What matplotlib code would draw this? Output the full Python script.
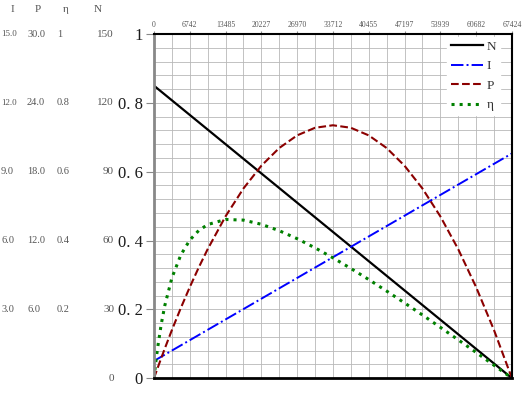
import numpy as np
import matplotlib.pyplot as plt
from matplotlib.transforms import blended_transform_factory

# motor characteristic curves, normalised to 0..1 on the main axis
speed = [0, 337, 674, 1348, 2023, 3371, 5057, 6742, 8428, 10114, 13485,
         16856, 20227, 23598, 26970, 30341, 33712, 37083, 40455, 43826,
         47197, 50568, 53939, 57310, 60682, 64053, 67424]
N_vals = [0.85, 0.0]
N_speed = [0, 67424]
I_vals = [0.05, 0.653]
I_speed = [0, 67424]
P_vals = [0, 0.0146, 0.0291, 0.0576, 0.0856, 0.1397, 0.2040, 0.2646, 0.3216,
          0.3749, 0.4704, 0.5513, 0.6174, 0.6689, 0.7056, 0.7277, 0.7350,
          0.7277, 0.7056, 0.6689, 0.6174, 0.5513, 0.4704, 0.3749, 0.2646,
          0.1397, 0]
eta_vals = [0, 0.0461, 0.0869, 0.1553, 0.2101, 0.2914, 0.3582, 0.4012, 0.4290,
            0.4464, 0.4612, 0.4593, 0.4472, 0.4285, 0.4053, 0.3787, 0.3497,
            0.3189, 0.2866, 0.2531, 0.2187, 0.1836, 0.1478, 0.1114, 0.0747,
            0.0375, 0]

top_ticks = [0, 6742, 13485, 20227, 26970, 33712, 40455, 47197, 53939, 60682, 67424]
y_ticks = [0, 0.2, 0.4, 0.6, 0.8, 1.0]
y_ticklabels = ["0", "0. 2", "0. 4", "0. 6", "0. 8", "1"]

# extra scales on the left
side_heads = ["I", "P", "η", "N"]
side_y = [1.0, 0.8, 0.6, 0.4, 0.2]
I_labels = ["15.0", "12.0", "9.0", "6.0", "3.0"]
P_labels = ["30.0", "24.0", "18.0", "12.0", "6.0"]
eta_labels = ["1", "0.8", "0.6", "0.4", "0.2"]
N_side_y = [1.0, 0.8, 0.6, 0.4, 0.2, 0.0]
N_labels = ["150", "120", "90", "60", "30", "0"]

serif = ["Liberation Serif", "DejaVu Serif"]

fig = plt.figure(figsize=(5.31, 4.01), dpi=100)
ax = fig.add_axes([0.290, 0.057, 0.674, 0.858])

ax.plot(N_speed, N_vals, "-", color="black", lw=1.6, label="N")
ax.plot(I_speed, I_vals, "-.", color="#0000ff", lw=1.4, label="I")
ax.plot(speed, P_vals, "--", color="#8b0000", lw=1.5, label="P")
ax.plot(speed, eta_vals, ":", color="#008000", lw=2.2, label="η")

ax.set_xlim(0, top_ticks[-1])
ax.set_ylim(0, 1)

ax.xaxis.tick_top()
ax.set_xticks(top_ticks)
ax.set_xticklabels([str(v) for v in top_ticks], fontsize=5.5, color="#555555",
                   family=serif)
ax.set_xticks([(a + b) / 2 for a, b in zip(top_ticks[:-1], top_ticks[1:])], minor=True)
ax.tick_params(axis="x", which="major", length=2, pad=2, color="#888888")
ax.tick_params(axis="x", which="minor", length=0)

ax.set_yticks(y_ticks)
ax.set_yticklabels(y_ticklabels, fontsize=12, color="#1a1a1a", family=serif)
ax.set_yticks(np.arange(0, 1.0001, 0.04), minor=True)
ax.tick_params(axis="y", which="major", length=6, pad=2, color="#888888")
ax.tick_params(axis="y", which="minor", length=0)

ax.grid(True, which="both", color="#b8b8b8", lw=0.6)
ax.set_axisbelow(True)

ax.spines["left"].set_color("#888888")
ax.spines["left"].set_linewidth(2)
ax.spines["bottom"].set_linewidth(2)
ax.spines["top"].set_linewidth(1.5)
ax.spines["right"].set_linewidth(1.5)

leg = ax.legend(loc="upper right", bbox_to_anchor=(0.975, 1.0), frameon=True,
                fancybox=False, framealpha=1, edgecolor="white",
                handlelength=2.4, handletextpad=0.3, labelspacing=0.55,
                borderpad=0.3, borderaxespad=0.2,
                prop={"family": serif, "size": 9.5})
for t in leg.get_texts():
    t.set_color("#333333")

tr = blended_transform_factory(fig.transFigure, ax.transData)
head_x = [12 / 531, 38 / 531, 66 / 531, 98 / 531]
for hx, h in zip(head_x, side_heads):
    fig.text(hx, 1 - 10 / 401, h, fontsize=8, color="#555555", ha="center",
             va="center", family=serif)

I_sizes = [6.5, 6.5, 7.5, 7.5, 7.5]
for y, a, b, c, s in zip(side_y, I_labels, P_labels, eta_labels, I_sizes):
    ax.text(1 / 531, y, a, transform=tr, fontsize=s, color="#555555",
            ha="left", va="center", family=serif, clip_on=False)
    ax.text(27 / 531, y, b, transform=tr, fontsize=7.5, color="#555555",
            ha="left", va="center", family=serif, clip_on=False)
    ax.text(57 / 531, y, c, transform=tr, fontsize=7.5, color="#555555",
            ha="left", va="center", family=serif, clip_on=False)
for y, n in zip(N_side_y, N_labels):
    ax.text(114 / 531, y, n, transform=tr, fontsize=8, color="#555555",
            ha="right", va="center", family=serif, clip_on=False)

fig.savefig("out.png", dpi=100)
